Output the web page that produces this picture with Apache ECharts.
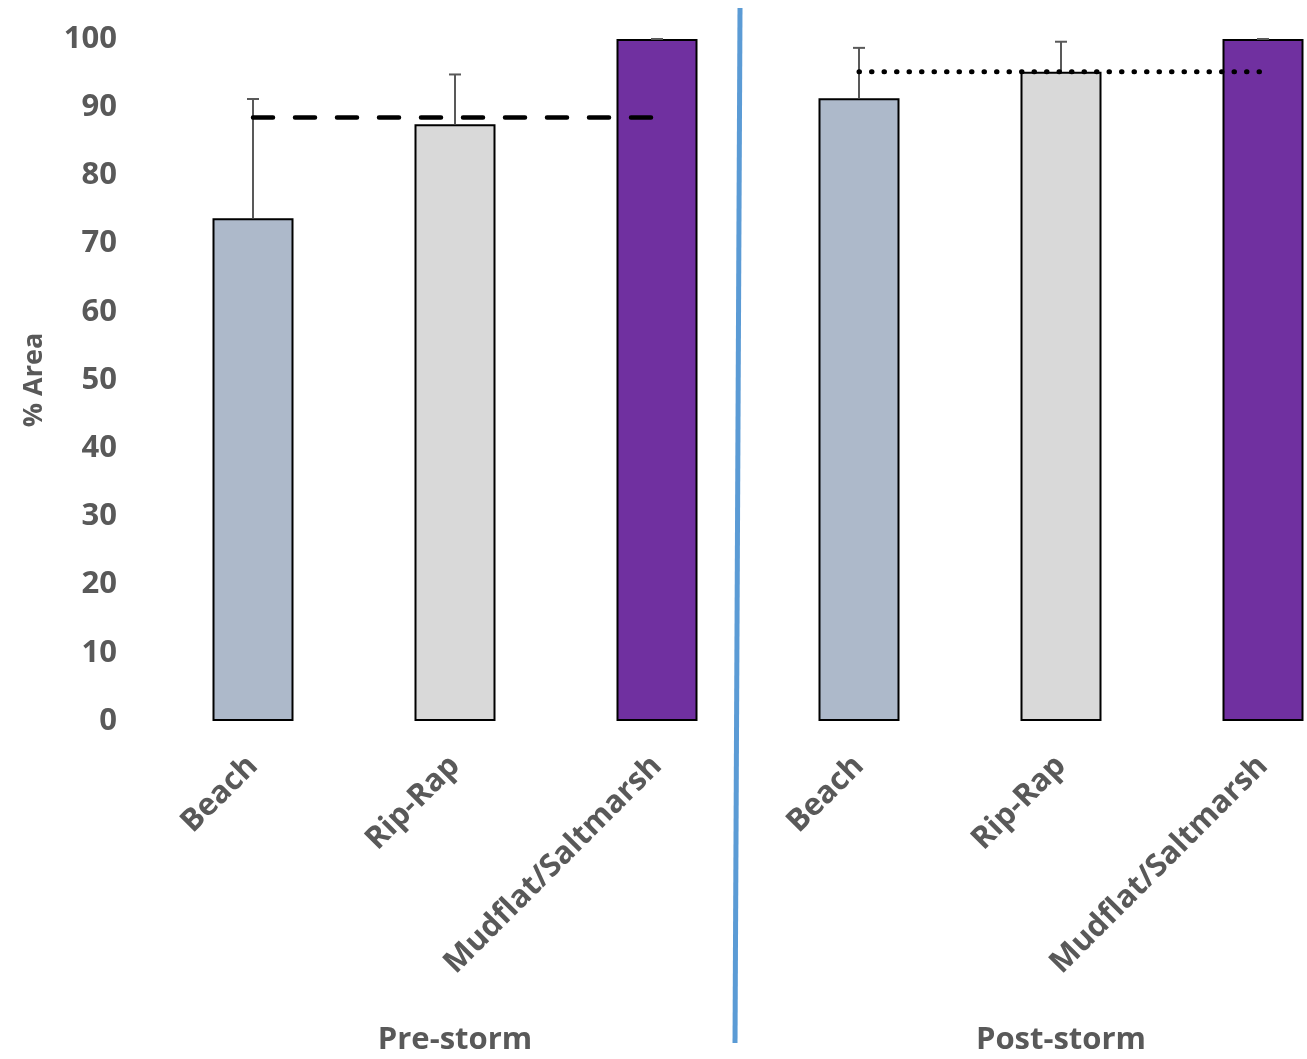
<!DOCTYPE html>
<html>
<head>
<meta charset="utf-8">
<script src="https://cdn.jsdelivr.net/npm/echarts@6/dist/echarts.min.js"></script>
<style>html,body{margin:0;padding:0;background:#fff;}#c{width:1307px;height:1059px;}</style>
</head>
<body>
<div id="c"></div>
<script>
const categories = ['Beach', 'Rip-Rap', 'Mudflat/Saltmarsh', 'Beach', 'Rip-Rap', 'Mudflat/Saltmarsh'];
const groups = ['Pre-storm', 'Post-storm'];
const values = [73.7, 87.5, 100, 91.3, 95.2, 100];
const errorTops = [91.2, 94.8, 100, 98.7, 99.6, 100];
const barColors = ['#ADB9CA', '#D9D9D9', '#7030A0', '#ADB9CA', '#D9D9D9', '#7030A0'];
const preMean = [88.5, 88.5, 88.5, '-', '-', '-'];
const postMean = ['-', '-', '-', 95.2, 95.2, 95.2];
const yTicks = { min: 0, max: 100, interval: 10 };

const FONT = '"Open Sans", "Noto Sans", sans-serif';
const TXT = '#595959';

const chart = echarts.init(document.getElementById('c'), null, { renderer: 'canvas' });
chart.setOption({
  animation: false,
  backgroundColor: '#fff',
  grid: { left: 152, top: 39, width: 1212, height: 682, containLabel: false, outerBoundsMode: 'none' },
  xAxis: [
    {
      type: 'category', data: categories, position: 'bottom',
      axisLine: { show: false }, axisTick: { show: false },
      axisLabel: { rotate: 45, margin: 40, color: TXT, fontFamily: FONT, fontWeight: 'bold', fontSize: 31, interval: 0 }
    },
    {
      type: 'category', data: groups, position: 'bottom',
      axisLine: { show: false }, axisTick: { show: false },
      axisLabel: { margin: 304, color: TXT, fontFamily: FONT, fontWeight: 'bold', fontSize: 31, interval: 0 }
    }
  ],
  yAxis: {
    type: 'value', min: yTicks.min, max: yTicks.max, interval: yTicks.interval,
    axisLine: { show: false }, axisTick: { show: false }, splitLine: { show: false },
    axisLabel: { margin: 35, color: TXT, fontFamily: FONT, fontWeight: 'bold', fontSize: 31 },
    name: '% Area', nameLocation: 'middle', nameGap: 104, nameRotate: 90,
    nameTextStyle: { color: TXT, fontFamily: FONT, fontWeight: 'bold', fontSize: 27 }
  },
  series: [
    {
      type: 'bar', barWidth: 81, z: 2,
      data: values.map((v, i) => ({ value: v, itemStyle: { color: barColors[i] } })),
      itemStyle: { borderColor: '#000', borderWidth: 2 }
    },
    {
      type: 'custom', z: 4,
      data: values.map((v, i) => [i, v, errorTops[i]]),
      encode: { x: 0, y: [1, 2] },
      renderItem: function (params, api) {
        const base = api.coord([api.value(0), api.value(1)]);
        const top = api.coord([api.value(0), api.value(2)]);
        const hw = 6;
        return {
          type: 'group',
          children: [
            { type: 'line', shape: { x1: base[0], y1: base[1], x2: top[0], y2: top[1] }, style: { stroke: '#595959', lineWidth: 2 } },
            { type: 'line', shape: { x1: top[0] - hw, y1: top[1], x2: top[0] + hw, y2: top[1] }, style: { stroke: '#595959', lineWidth: 2 } }
          ]
        };
      }
    },
    {
      type: 'line', data: preMean, symbol: 'none', z: 5,
      lineStyle: { color: '#000', width: 4.5, type: [20, 22], cap: 'round' }
    },
    {
      type: 'line', data: postMean, symbol: 'none', z: 5,
      lineStyle: { color: '#000', width: 5, type: [0.5, 12], cap: 'round' }
    }
  ],
  graphic: [
    {
      type: 'line', shape: { x1: 740, y1: 8, x2: 735, y2: 1043 },
      style: { stroke: '#5B9BD5', lineWidth: 5 }, z: 10
    }
  ]
});
</script>
</body>
</html>
